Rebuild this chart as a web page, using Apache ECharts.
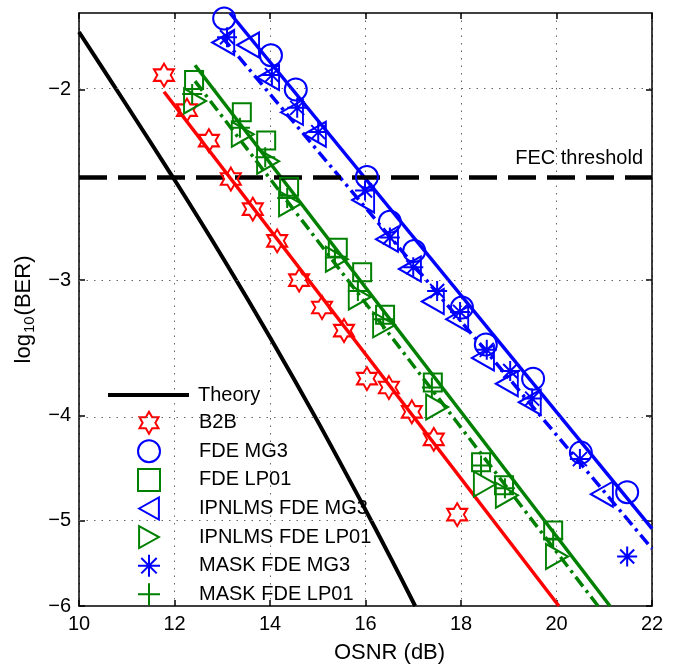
<!DOCTYPE html>
<html>
<head>
<meta charset="utf-8">
<script src="https://cdn.jsdelivr.net/npm/echarts@6/dist/echarts.min.js"></script>
<style>
  html, body { margin: 0; padding: 0; background: #fff; }
  #chart { width: 677px; height: 669px; }
</style>
</head>
<body>
<div id="chart"></div>
<script>
// OSNR (dB) on x, log10(BER) on y
const theoryX = [10, 10.94, 11.99, 13.03, 14.02, 14.97, 15.88, 16.54, 17.04];
const theoryY = [-1.77, -2.05, -2.42, -2.87, -3.40, -4.03, -4.78, -5.43, -6.0];

const b2bX = [11.78, 12.26, 12.72, 13.18, 13.64, 14.15, 14.61, 15.09, 15.55, 16.03, 16.49, 16.97, 17.43, 17.92];
const b2bY = [-1.94, -2.09, -2.23, -2.42, -2.58, -2.76, -3.00, -3.18, -3.34, -3.70, -3.77, -3.97, -4.21, -4.94];

const fdeMg3X = [13.04, 14.02, 14.54, 16.03, 16.51, 17.02, 18.02, 18.52, 19.51, 20.51, 21.48];
const fdeMg3Y = [-1.72, -1.86, -2.00, -2.41, -2.65, -2.82, -3.18, -3.44, -3.70, -4.33, -4.71];

const fdeLp01X = [12.41, 13.41, 13.92, 14.40, 15.42, 15.93, 16.41, 17.41, 18.42, 18.90, 19.93];
const fdeLp01Y = [-1.96, -2.10, -2.23, -2.46, -2.80, -2.95, -3.23, -3.73, -4.42, -4.64, -5.11];

const ipnlmsMg3X = [13.02, 13.54, 13.96, 14.46, 14.94, 15.95, 16.45, 16.93, 17.41, 17.92, 18.46, 18.96, 19.44, 20.95];
const ipnlmsMg3Y = [-1.81, -1.82, -1.95, -2.10, -2.20, -2.53, -2.75, -2.93, -3.14, -3.26, -3.54, -3.74, -3.89, -4.73];

const ipnlmsLp01X = [12.43, 13.43, 13.96, 14.42, 15.40, 15.88, 16.39, 17.50, 18.50, 18.96, 20.01];
const ipnlmsLp01Y = [-2.05, -2.20, -2.33, -2.55, -2.87, -3.11, -3.30, -3.93, -4.63, -4.74, -5.40];

const maskMg3X = [13.10, 14.04, 14.57, 15.01, 15.99, 16.51, 17.00, 17.50, 17.98, 18.54, 19.03, 19.49, 20.49, 21.48];
const maskMg3Y = [-1.79, -1.94, -2.08, -2.19, -2.48, -2.74, -2.92, -3.07, -3.21, -3.48, -3.64, -3.86, -4.39, -5.40];

const maskLp01X = [12.37, 13.37, 13.90, 14.36, 15.36, 15.84, 16.37, 17.39, 18.42, 18.92, 19.93];
const maskLp01Y = [-2.02, -2.17, -2.31, -2.52, -2.86, -3.07, -3.26, -3.77, -4.45, -4.67, -5.20];

// linear fits (end points)
const b2bFitX = [11.78, 20.05];
const b2bFitY = [-2.01, -6.0];
const mg3FitX = [13.16, 22];
const mg3FitY = [-1.70, -5.09];
const mg3IpnlmsFitX = [13.0, 22];
const mg3IpnlmsFitY = [-1.79, -5.31];
const lp01FitX = [12.43, 21.12];
const lp01FitY = [-1.90, -6.0];
const lp01IpnlmsFitX = [12.43, 20.87];
const lp01IpnlmsFitY = [-1.965, -6.0];

const fecLevel = -2.42;

const xTicks = { min: 10, max: 22, step: 2 };
const yTickLabels = [-2, -3, -4, -5, -6];
const yGridLines = [-2, -3, -4, -5];
const yRange = [-1.7, -6];

// the vertical scale is linear in ln(-log10 BER)
const toAxis = lg => Math.log(-lg);
const pts = (xs, ys) => xs.map((x, i) => [x, toAxis(ys[i])]);

const RED = '#ff0000', BLUE = '#0000ff', GREEN = '#008000';
const FONT = 'Liberation Sans, Arial, Helvetica, sans-serif';

const HEXAGRAM = 'path://M0,-100L28.87,-50L86.6,-50L57.7,0L86.6,50L28.87,50L0,100L-28.87,50L-86.6,50L-57.7,0L-86.6,-50L-28.87,-50Z';
const SQUARE = 'path://M0,0L100,0L100,100L0,100Z';
const TRI_LEFT = 'path://M0,50L90,0L90,100Z';
const TRI_RIGHT = 'path://M0,0L90,50L0,100Z';
const ASTERISK = 'path://M0,-50L0,50M-50,0L50,0M-35,-35L35,35M-35,35L35,-35';
const PLUS = 'path://M0,-50L0,50M-50,0L50,0';

const chart = echarts.init(document.getElementById('chart'), null, { renderer: 'canvas' });

function markers(name, xs, ys, symbol, size, color) {
  return {
    name, type: 'scatter', data: pts(xs, ys), symbol, symbolSize: size,
    itemStyle: { color: 'rgba(0,0,0,0)', borderColor: color, borderWidth: 2, opacity: 1 },
    z: 5
  };
}
function fit(xs, ys, color, type, width) {
  return {
    type: 'line', data: pts(xs, ys), symbol: 'none', clip: true,
    lineStyle: { color, width, type }, z: 3
  };
}

const yTickAxis = yTickLabels.map(toAxis);
const dashDot = [12, 5, 3, 5];

const option = {
  animation: false,
  textStyle: { fontFamily: FONT },
  grid: { left: 79, right: 25, top: 13, bottom: 62, containLabel: false },
  legend: [
    {
      data: [{ name: 'Theory', icon: 'rect', itemStyle: { color: '#000' } }],
      orient: 'vertical', left: 108, top: 384, padding: 0,
      itemWidth: 81, itemHeight: 4, selectedMode: false,
      textStyle: { fontSize: 20, color: '#000', fontFamily: FONT, lineHeight: 22, padding: [0, 0, 0, 4] }
    },
    {
      data: ['B2B', 'FDE MG3', 'FDE LP01', 'IPNLMS FDE MG3', 'IPNLMS FDE LP01', 'MASK FDE MG3', 'MASK FDE LP01'],
      orient: 'vertical', left: 137, top: 410.7, padding: 0, itemGap: 4.6,
      itemWidth: 90, itemHeight: 22, selectedMode: false,
      textStyle: { fontSize: 20, color: '#000', fontFamily: FONT, lineHeight: 22 }
    }
  ],
  xAxis: [
    {
      type: 'value', min: xTicks.min, max: xTicks.max, interval: xTicks.step,
      name: 'OSNR (dB)', nameLocation: 'middle', nameGap: 36,
      nameTextStyle: { fontSize: 22, color: '#000', fontFamily: FONT, padding: [0, 0, 0, 48] },
      axisLine: { lineStyle: { color: '#000', width: 1.5 } },
      axisTick: { inside: true, length: 6, lineStyle: { color: '#000', width: 1.5 } },
      axisLabel: { fontSize: 20, color: '#000', margin: 8, fontFamily: FONT },
      splitLine: { show: true, lineStyle: { color: '#666', width: 1, type: [1.5, 6] } }
    },
    {
      type: 'value', position: 'top', min: xTicks.min, max: xTicks.max, interval: xTicks.step,
      axisLine: { show: true, lineStyle: { color: '#000', width: 1.5 } },
      axisTick: { show: true, inside: true, length: 6, lineStyle: { color: '#000', width: 1.5 } },
      axisLabel: { show: false }, splitLine: { show: false }
    }
  ],
  yAxis: [
    {
      type: 'value', inverse: true, min: toAxis(yRange[0]), max: toAxis(yRange[1]),
      name: '{t|log}{s|10}{t|(BER)}', nameLocation: 'middle', nameGap: 42, nameRotate: 90,
      nameTextStyle: {
        color: '#000', fontFamily: FONT,
        rich: {
          t: { fontSize: 22, color: '#000', fontFamily: FONT, lineHeight: 24 },
          s: { fontSize: 15, color: '#000', fontFamily: FONT, lineHeight: 15, padding: [11, 1, 0, 1] }
        }
      },
      axisLine: { lineStyle: { color: '#000', width: 1.5 } },
      axisTick: { inside: true, length: 6, customValues: yTickAxis, lineStyle: { color: '#000', width: 1.5 } },
      axisLabel: {
        fontSize: 20, color: '#000', margin: 8, fontFamily: FONT,
        customValues: yTickAxis,
        formatter: v => '\u2212' + Math.round(Math.exp(v))
      },
      splitLine: { show: false }
    },
    {
      type: 'value', inverse: true, position: 'right', min: toAxis(yRange[0]), max: toAxis(yRange[1]),
      axisLine: { show: true, lineStyle: { color: '#000', width: 1.5 } },
      axisTick: { show: true, inside: true, length: 6, customValues: yTickAxis, lineStyle: { color: '#000', width: 1.5 } },
      axisLabel: { show: false }, splitLine: { show: false }
    }
  ],
  series: [
    {
      type: 'line', data: [], z: 1, silent: true,
      markLine: {
        silent: true, symbol: ['none', 'none'], label: { show: false },
        lineStyle: { color: '#666', width: 1, type: [1.5, 6] },
        data: yGridLines.map(v => ({ yAxis: toAxis(v) }))
      }
    },
    {
      name: 'Theory', type: 'line', data: pts(theoryX, theoryY), symbol: 'none', clip: true,
      smooth: 0.3,
      lineStyle: { color: '#000', width: 4 }, itemStyle: { color: '#000' }, z: 3,
      markLine: {
        silent: true, symbol: ['none', 'none'],
        lineStyle: { color: '#000', width: 4.5, type: [28, 11] },
        label: {
          show: true, position: 'insideEndTop', formatter: 'FEC threshold',
          color: '#000', fontSize: 20, fontFamily: FONT, distance: 9
        },
        data: [{ yAxis: toAxis(fecLevel) }]
      }
    },
    fit(b2bFitX, b2bFitY, RED, 'solid', 3.5),
    fit(mg3FitX, mg3FitY, BLUE, 'solid', 3.5),
    fit(mg3IpnlmsFitX, mg3IpnlmsFitY, BLUE, dashDot, 3.5),
    fit(lp01FitX, lp01FitY, GREEN, 'solid', 3.5),
    fit(lp01IpnlmsFitX, lp01IpnlmsFitY, GREEN, dashDot, 3.5),
    markers('B2B', b2bX, b2bY, HEXAGRAM, [20, 23], RED),
    markers('FDE MG3', fdeMg3X, fdeMg3Y, 'circle', 22, BLUE),
    markers('FDE LP01', fdeLp01X, fdeLp01Y, SQUARE, 18, GREEN),
    markers('IPNLMS FDE MG3', ipnlmsMg3X, ipnlmsMg3Y, TRI_LEFT, [22, 25], BLUE),
    markers('IPNLMS FDE LP01', ipnlmsLp01X, ipnlmsLp01Y, TRI_RIGHT, [22, 25], GREEN),
    markers('MASK FDE MG3', maskMg3X, maskMg3Y, ASTERISK, 20, BLUE),
    markers('MASK FDE LP01', maskLp01X, maskLp01Y, PLUS, 20, GREEN)
  ]
};

chart.setOption(option);
</script>
</body>
</html>
